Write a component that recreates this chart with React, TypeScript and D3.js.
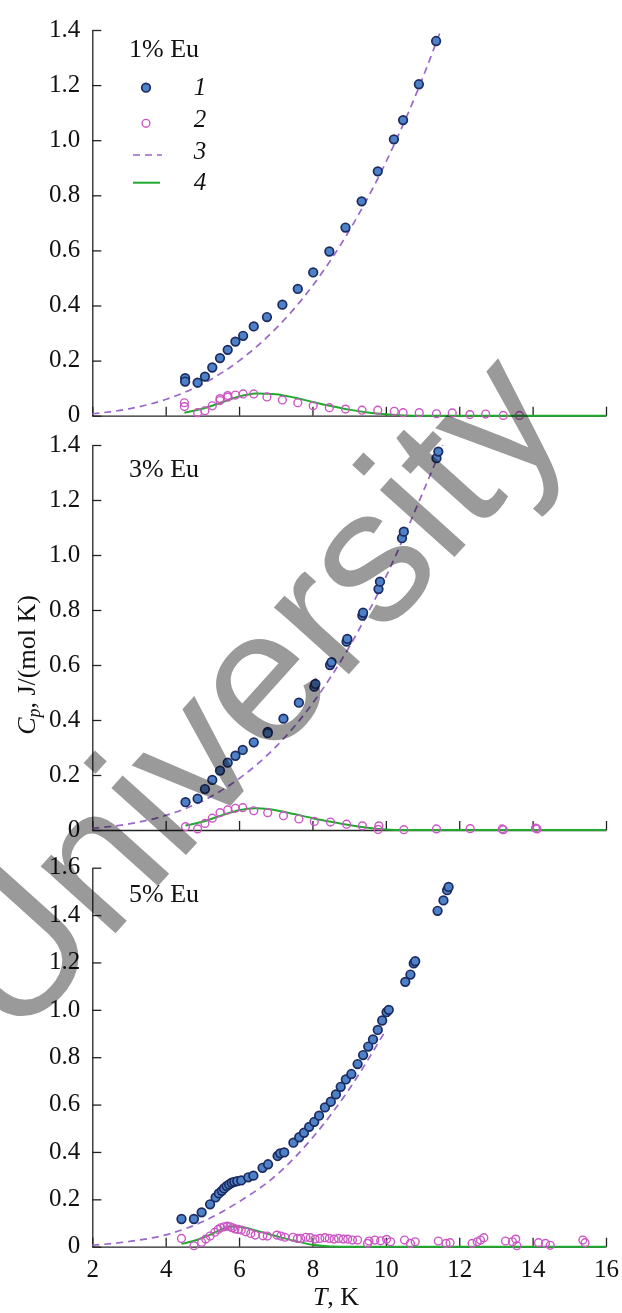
import React, { useEffect, useRef } from "react";
import * as d3 from "d3";

const W = 622;
const H = 1313;
const SERIF = "Liberation Serif, Times New Roman, Times, Tinos, serif";
const SANS = "Liberation Sans, Arial, Helvetica, Arimo, sans-serif";

// [T (K), Cp (J/(mol K))]

// 1% Eu
const eu1Total = [
  [4.53, 0.136], [4.53, 0.124], [4.87, 0.12], [5.07, 0.142], [5.27, 0.175],
  [5.48, 0.209], [5.69, 0.239], [5.9, 0.269], [6.11, 0.29], [6.4, 0.324],
  [6.76, 0.358], [7.18, 0.403], [7.6, 0.46], [8.02, 0.52], [8.46, 0.596],
  [8.9, 0.683], [9.34, 0.778], [9.78, 0.887], [10.22, 1.003], [10.47, 1.073],
  [10.9, 1.203], [11.37, 1.36],
];
const eu1Excess = [
  [4.51, 0.047], [4.51, 0.033], [4.87, 0.011], [5.07, 0.018], [5.27, 0.036],
  [5.48, 0.055], [5.48, 0.062], [5.69, 0.067], [5.69, 0.073], [5.9, 0.075],
  [6.11, 0.079], [6.4, 0.079], [6.76, 0.068], [7.18, 0.057], [7.6, 0.047],
  [8.02, 0.036], [8.46, 0.029], [8.9, 0.024], [9.35, 0.02], [9.78, 0.02],
  [10.23, 0.016], [10.47, 0.011], [10.91, 0.011], [11.38, 0.007], [11.81, 0.01],
  [12.29, 0.004], [12.72, 0.006], [13.2, 0.001], [13.64, 0.001],
];
const eu1Lattice = [
  [2, 0.007], [3, 0.025], [4, 0.059], [5, 0.115], [6, 0.199], [7, 0.316],
  [8, 0.471], [9, 0.671], [10, 0.92], [11, 1.225], [11.5, 1.4],
];
const eu1Schottky = [
  [4.51, 0.011], [5, 0.025], [5.5, 0.047], [6, 0.07], [6.5, 0.081], [7, 0.078],
  [7.5, 0.066], [8, 0.05], [8.5, 0.035], [9, 0.022], [9.5, 0.012], [10, 0.005],
  [10.5, 0.001], [11, 0], [16, 0],
];

// 3% Eu
const eu3Total = [
  [4.54, 0.101], [4.87, 0.114], [5.07, 0.149], [5.27, 0.182], [5.48, 0.216],
  [5.69, 0.245], [5.9, 0.27], [6.1, 0.291], [6.4, 0.319], [6.78, 0.357],
  [6.78, 0.352], [7.21, 0.405], [7.63, 0.463], [8.05, 0.521], [8.08, 0.531],
  [8.48, 0.6], [8.52, 0.61], [8.93, 0.685], [8.95, 0.695], [9.36, 0.78],
  [9.38, 0.79], [9.8, 0.876], [9.84, 0.903], [10.44, 1.061], [10.49, 1.085],
  [11.38, 1.352], [11.43, 1.376],
];
const eu3Excess = [
  [4.54, 0.012], [4.87, 0.004], [5.07, 0.024], [5.27, 0.043], [5.48, 0.063],
  [5.69, 0.073], [5.9, 0.079], [6.1, 0.081], [6.4, 0.07], [6.78, 0.063],
  [7.21, 0.052], [7.63, 0.04], [8.05, 0.031], [8.49, 0.029], [8.93, 0.021],
  [9.36, 0.015], [9.81, 0.015], [9.79, 0.002], [10.49, 0.001], [11.38, 0.004],
  [12.3, 0.005], [13.17, 0.004], [13.2, 0.001], [14.08, 0.007], [14.12, 0.004],
];
const eu3Lattice = [
  [2, 0.006], [3, 0.022], [4, 0.053], [5, 0.105], [6, 0.187], [7, 0.302],
  [8, 0.46], [9, 0.665], [10, 0.92], [11, 1.225], [11.55, 1.4],
];
const eu3Schottky = [
  [4.54, 0.016], [5, 0.03], [5.5, 0.052], [6, 0.072], [6.5, 0.079], [7, 0.072],
  [7.5, 0.058], [8, 0.043], [8.5, 0.03], [9, 0.018], [9.5, 0.008], [10, 0.002],
  [10.5, 0], [16, 0],
];

// 5% Eu
const eu5Total = [
  [4.43, 0.117], [4.77, 0.117], [4.98, 0.145], [5.21, 0.179], [5.36, 0.208],
  [5.45, 0.225], [5.53, 0.236], [5.59, 0.246], [5.66, 0.256], [5.73, 0.263],
  [5.8, 0.27], [5.87, 0.274], [5.95, 0.277], [6.06, 0.28], [6.25, 0.293],
  [6.39, 0.3], [6.64, 0.333], [6.79, 0.348], [7.05, 0.383], [7.12, 0.394],
  [7.23, 0.398], [7.48, 0.439], [7.64, 0.462], [7.77, 0.481], [7.91, 0.506],
  [8.05, 0.527], [8.18, 0.553], [8.34, 0.588], [8.5, 0.612], [8.64, 0.643],
  [8.77, 0.675], [8.91, 0.706], [9.06, 0.729], [9.23, 0.771], [9.38, 0.809],
  [9.52, 0.845], [9.65, 0.875], [9.78, 0.915], [9.9, 0.955], [10.02, 0.99],
  [10.08, 1.0], [10.53, 1.118], [10.67, 1.149], [10.76, 1.196], [10.8, 1.205],
  [11.41, 1.418], [11.57, 1.462], [11.67, 1.505], [11.71, 1.519],
];
const eu5Excess = [
  [4.43, 0.035], [4.77, 0.004], [4.98, 0.019], [5.09, 0.032], [5.21, 0.045],
  [5.34, 0.061], [5.43, 0.073], [5.5, 0.08], [5.59, 0.084], [5.68, 0.087],
  [5.75, 0.084], [5.82, 0.08], [5.89, 0.075], [5.97, 0.073], [6.06, 0.07],
  [6.18, 0.063], [6.32, 0.056], [6.44, 0.049], [6.65, 0.046], [6.77, 0.045],
  [7.03, 0.049], [7.14, 0.045], [7.25, 0.04], [7.47, 0.04], [7.59, 0.035],
  [7.68, 0.035], [7.82, 0.04], [7.94, 0.038], [8.07, 0.032], [8.2, 0.035],
  [8.34, 0.038], [8.46, 0.035], [8.59, 0.032], [8.71, 0.035], [8.84, 0.032],
  [8.96, 0.032], [9.09, 0.028], [9.23, 0.028], [9.5, 0.014], [9.54, 0.024],
  [9.7, 0.028], [9.86, 0.025], [10.02, 0.031], [10.13, 0.021], [10.51, 0.028],
  [10.67, 0.014], [10.8, 0.021], [11.43, 0.024], [11.64, 0.014], [11.75, 0.017],
  [12.35, 0.014], [12.49, 0.021], [12.58, 0.028], [12.67, 0.038], [13.26, 0.024],
  [13.45, 0.021], [13.54, 0.032], [13.57, 0.004], [14.16, 0.017], [14.35, 0.014],
  [14.48, 0.006], [15.37, 0.028], [15.43, 0.017],
];
const eu5Lattice = [
  [2, 0.006], [3, 0.022], [4, 0.05], [5, 0.105], [6, 0.19], [7, 0.3],
  [8, 0.46], [9, 0.665], [10, 0.915],
];
const eu5Schottky = [
  [4.43, 0.012], [4.8, 0.026], [5.2, 0.05], [5.5, 0.072], [5.8, 0.085],
  [6.1, 0.082], [6.5, 0.066], [7, 0.045], [7.5, 0.025], [8, 0.008],
  [8.5, 0.001], [9, 0], [16, 0],
];

const xTicks = [2, 4, 6, 8, 10, 12, 14, 16];
const legendLabels = ["1", "2", "3", "4"];

const panels = [
  { name: "1% Eu", yMax: 1.4, top: 30, bottom: 415.7, total: eu1Total, excess: eu1Excess, lattice: eu1Lattice, schottky: eu1Schottky, labelY: 57, xLabels: false, legend: true },
  { name: "3% Eu", yMax: 1.4, top: 445, bottom: 830, total: eu3Total, excess: eu3Excess, lattice: eu3Lattice, schottky: eu3Schottky, labelY: 477, xLabels: false, legend: false },
  { name: "5% Eu", yMax: 1.6, top: 867.7, bottom: 1246.7, total: eu5Total, excess: eu5Excess, lattice: eu5Lattice, schottky: eu5Schottky, labelY: 902, xLabels: true, legend: false },
];

const BLUE = "#4d82c8";
const NAVY = "#1c2a60";
const PINK = "#cc55c4";
const PURPLE = "#9966cc";
const GREEN = "#1faa2e";

const x = d3.scaleLinear().domain([2, 16]).range([92.3, 606]);

const Panel = ({ p }) => {
  const yRef = useRef(null);
  const xRef = useRef(null);
  const y = d3.scaleLinear().domain([0, p.yMax]).range([p.bottom, p.top]);
  const line = d3
    .line()
    .x(d => x(d[0]))
    .y(d => y(d[1]))
    .curve(d3.curveMonotoneX);

  useEffect(() => {
    const yTicks = d3.range(0, p.yMax + 0.01, 0.2);
    const ya = d3
      .axisLeft(y)
      .tickValues(yTicks)
      .tickSizeInner(-9)
      .tickSizeOuter(0)
      .tickPadding(12)
      .tickFormat(d => (d === 0 ? "0" : d3.format(".1f")(d)));
    const gy = d3.select(yRef.current).call(ya);
    gy.attr("font-family", null).attr("font-size", 25);
    gy.selectAll("text").attr("dy", "0.25em").attr("fill", "#111");
    gy.selectAll("line, path").attr("stroke", "#222").attr("stroke-width", 1.3);

    const xa = d3
      .axisBottom(x)
      .tickValues(xTicks)
      .tickSizeInner(-9)
      .tickSizeOuter(0)
      .tickPadding(13)
      .tickFormat(d => (p.xLabels ? String(d) : ""));
    const gx = d3.select(xRef.current).call(xa);
    gx.attr("font-family", null).attr("font-size", 25);
    gx.selectAll("text").attr("fill", "#111");
    gx.selectAll("line, path").attr("stroke", "#222").attr("stroke-width", 1.3);
  }, [p]);

  return (
    <g>
      <g ref={yRef} transform={`translate(${x(2)},0)`} />
      <g ref={xRef} transform={`translate(0,${p.bottom})`} />
      <path d={line(p.lattice)} fill="none" stroke={PURPLE} strokeWidth={1.7} strokeDasharray="7 5" />
      <path d={line(p.schottky)} fill="none" stroke={GREEN} strokeWidth={2} />
      {p.excess.map((d, i) => (
        <circle key={"o" + i} cx={x(d[0])} cy={y(d[1])} r={3.9} fill="none" stroke={PINK} strokeWidth={1.4} />
      ))}
      {p.total.map((d, i) => (
        <circle key={"f" + i} cx={x(d[0])} cy={y(d[1])} r={4.3} fill={BLUE} stroke={NAVY} strokeWidth={1.7} />
      ))}
      <text x={129} y={p.labelY} fill="#111" style={{ fontSize: 26 }}>
        {p.name}
      </text>
      {p.legend && (
        <g fill="#111">
          <circle cx={146} cy={87.7} r={4.3} fill={BLUE} stroke={NAVY} strokeWidth={1.7} />
          <circle cx={146} cy={123.3} r={3.9} fill="none" stroke={PINK} strokeWidth={1.4} />
          <line x1={133} x2={162} y1={155} y2={155} stroke={PURPLE} strokeWidth={1.7} strokeDasharray="7 5" />
          <line x1={133} x2={160} y1={182.7} y2={182.7} stroke={GREEN} strokeWidth={2} />
          {legendLabels.map((t, i) => (
            <text key={t} x={200} y={[94.5, 126.7, 159, 190][i]} textAnchor="middle" style={{ fontStyle: "italic", fontSize: 25 }}>
              {t}
            </text>
          ))}
        </g>
      )}
    </g>
  );
};

const App = () => (
  <svg
    width={W}
    height={H}
    style={{ position: "absolute", left: 0, top: 0, background: "#fff", fontFamily: SERIF, fontSize: 24 }}
  >
    <rect width={W} height={H} fill="#fff" />
    {panels.map(p => (
      <Panel key={p.name} p={p} />
    ))}
    <text x={336} y={1305} textAnchor="middle" fill="#111" style={{ fontSize: 26 }}>
      <tspan style={{ fontStyle: "italic" }}>T</tspan>, K
    </text>
    <text transform="translate(35,665) rotate(-90)" textAnchor="middle" fill="#111" style={{ fontSize: 26 }}>
      <tspan style={{ fontStyle: "italic" }}>C</tspan>
      <tspan style={{ fontStyle: "italic", fontSize: 18 }} dy={5}>p</tspan>
      <tspan dy={-5}>, J/(mol K)</tspan>
    </text>
    <text
      x={15}
      y={1045}
      transform="rotate(-48 15 1045)"
      fill="#9a9a9a"
      style={{ mixBlendMode: "multiply", fontFamily: SANS, fontSize: 190 }}
    >
      University
    </text>
  </svg>
);

export default App;
